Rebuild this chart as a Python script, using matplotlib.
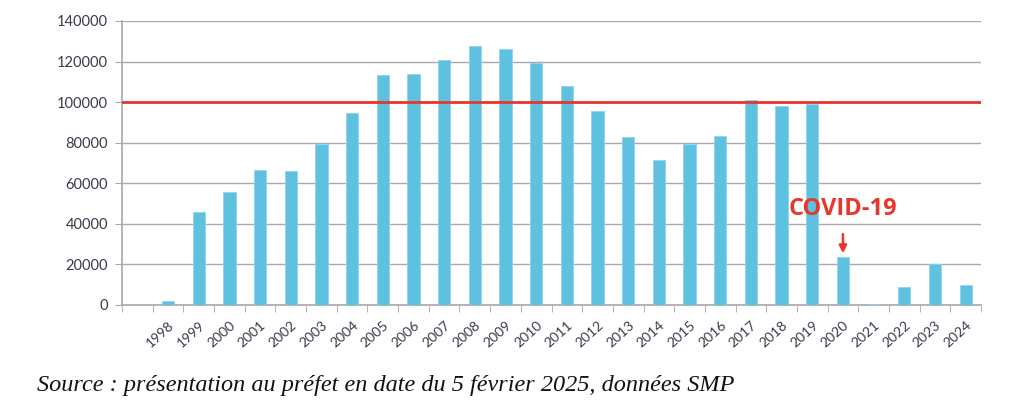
import matplotlib
matplotlib.use("Agg")
import matplotlib.pyplot as plt
import numpy as np

years = [str(y) for y in range(1998, 2025)]
values = [1800, 45700, 55800, 66500, 66200, 79500, 94600, 113300, 114100, 120700,
          127600, 126400, 119400, 107900, 95600, 82600, 71400, 79300, 83200, 101000,
          98000, 99300, 23800, 300, 8900, 20000, 10000]
threshold = 100000
yticks = [0, 20000, 40000, 60000, 80000, 100000, 120000, 140000]

fig = plt.figure(figsize=(10.24, 4.08), dpi=100)
ax = fig.add_axes([122/1024, 1-305/408, (981-122)/1024, 284/408])

x = np.arange(len(years))
ax.bar(x, values, width=0.4, color="#5DC1DF", edgecolor="#8FD4EA", linewidth=0.6, zorder=3)
ax.axhline(threshold, color="#E8362C", lw=2, zorder=4)

ax.set_xlim(-1.5, len(years) - 0.5)
ax.set_ylim(0, 140000)
ax.set_yticks(yticks)
ax.set_yticklabels([str(v) for v in yticks], fontsize=10.5, color="#3a3a4a", family="Lato")
ax.yaxis.grid(True, color="#A8A8A8", lw=1, zorder=0)
ax.tick_params(axis="y", length=5, color="#A8A8A8", pad=5)

ax.set_xticks(x)
ax.set_xticklabels(years, rotation=42, ha="right", rotation_mode="anchor",
                   fontsize=10, color="#3a3a4a", family="Lato")
ax.set_xticks(np.arange(-1.5, len(years)), minor=True)
ax.tick_params(axis="x", which="major", length=0, pad=10)
ax.tick_params(axis="x", which="minor", length=5, color="#A8A8A8")

for s in ["top", "right"]:
    ax.spines[s].set_visible(False)
for s in ["left", "bottom"]:
    ax.spines[s].set_color("#A8A8A8")
    ax.spines[s].set_linewidth(1.2)

i2020 = years.index("2020")
ax.annotate("", xy=(i2020, values[i2020] + 300), xytext=(i2020, values[i2020] + 12500),
            arrowprops=dict(arrowstyle="-|>", color="#E8362C", lw=1.8, mutation_scale=11), zorder=5)
ax.text(i2020, values[i2020] + 23500, "COVID-19", color="#E8362C", fontsize=17,
        fontweight="bold", ha="center", va="center", family="Open Sans", zorder=5)

fig.text(37/1024, 1-385/408, "Source : présentation au préfet en date du 5 février 2025, données SMP",
         family="Liberation Serif", style="italic", fontsize=17.5, va="center", ha="left", color="#111111")

fig.savefig("out.png", dpi=100, facecolor="white")
